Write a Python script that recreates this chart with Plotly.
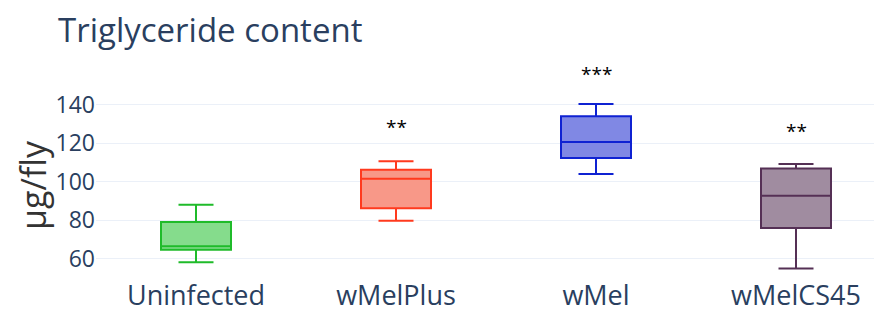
import plotly.graph_objects as go

categories = ["Uninfected", "wMelPlus", "wMel", "wMelCS45"]
lower = [58.3, 79.7, 104.0, 55.0]
q1 = [64.7, 86.3, 112.3, 76.0]
median = [66.6, 101.6, 120.6, 92.7]
q3 = [79.1, 106.2, 134.0, 106.8]
upper = [88.0, 110.6, 140.3, 109.2]
line_colors = ["#1fbb2a", "#ff3a1e", "#0f22d2", "#553055"]
fill_colors = ["rgba(133,220,140,1)", "rgba(248,152,136,1)", "rgba(128,136,228,1)", "rgba(160,140,160,1)"]
sig_labels = ["", "**", "***", "**"]
sig_y = [None, 128.6, 155.6, 126.5]

fig = go.Figure()
for i, c in enumerate(categories):
    fig.add_trace(go.Box(
        x=[c], q1=[q1[i]], median=[median[i]], q3=[q3[i]],
        lowerfence=[lower[i]], upperfence=[upper[i]],
        name=c, line=dict(color=line_colors[i], width=2),
        fillcolor=fill_colors[i], whiskerwidth=0.5, showlegend=False,
    ))

for i, c in enumerate(categories):
    if sig_labels[i]:
        fig.add_annotation(x=c, y=sig_y[i], text=sig_labels[i], showarrow=False,
                           font=dict(size=19, color="black"))

# y-axis title
fig.add_annotation(text="μg/fly", xref="paper", yref="paper", x=-0.0802, y=0.436,
                   xanchor="center", yanchor="middle", textangle=-90, showarrow=False,
                   font=dict(size=34, color="#333"))

fig.update_layout(
    template="plotly_white",
    width=874, height=301,
    margin=dict(l=88, r=0, t=58.4, b=32),
    font=dict(family="Open Sans", color="#2a3f5f"),
    title=dict(text="Triglyceride content", x=50/874, xanchor="left", xref="container",
               y=1-22/301, yanchor="middle", font=dict(size=33)),
    boxgap=0.5,
    xaxis=dict(range=[-0.5, 3.43], tickfont=dict(size=27), categoryorder="array",
               categoryarray=categories, automargin=False),
    yaxis=dict(range=[50.6, 160], tickvals=[60, 80, 100, 120, 140], tickfont=dict(size=23),
               zeroline=False, automargin=False),
)
fig.write_html("out.html")
